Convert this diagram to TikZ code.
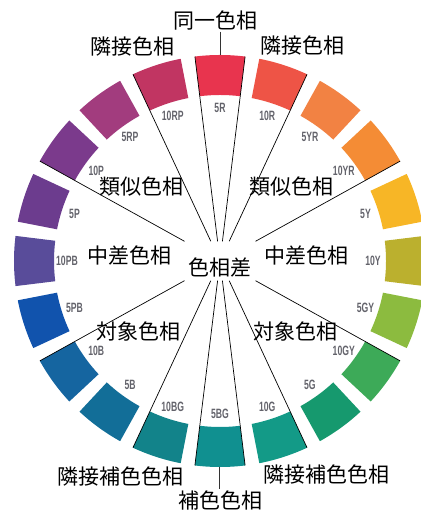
\documentclass[tikz,border=0pt]{standalone}
\usepackage{fontspec}
\usetikzlibrary{calc}
\newfontfamily\jpfont{Noto Sans CJK JP}
\newfontfamily\lblfont[FakeStretch=0.64]{Liberation Sans}
\definecolor{c5R}{HTML}{E8344E}
\definecolor{c10R}{HTML}{EE5446}
\definecolor{c5YR}{HTML}{F28243}
\definecolor{c10YR}{HTML}{F48C35}
\definecolor{c5Y}{HTML}{F7B626}
\definecolor{c10Y}{HTML}{BBB02E}
\definecolor{c5GY}{HTML}{8CBB3F}
\definecolor{c10GY}{HTML}{3DAA58}
\definecolor{c5G}{HTML}{16996E}
\definecolor{c10G}{HTML}{139A87}
\definecolor{c5BG}{HTML}{109090}
\definecolor{c10BG}{HTML}{12838A}
\definecolor{c5B}{HTML}{126E98}
\definecolor{c10B}{HTML}{1565A0}
\definecolor{c5PB}{HTML}{1153AD}
\definecolor{c10PB}{HTML}{594C9A}
\definecolor{c5P}{HTML}{6C3C8E}
\definecolor{c10P}{HTML}{7B3A8C}
\definecolor{c5RP}{HTML}{A23C7E}
\definecolor{c10RP}{HTML}{C13562}
\definecolor{lblgray}{HTML}{63636B}
\tikzset{
  jplabel/.style={font=\jpfont\fontsize{21}{21}\selectfont, inner sep=1pt, text=black},
  seglabel/.style={font=\lblfont\bfseries\fontsize{13.5}{13.5}\selectfont, text=lblgray, inner sep=0pt},
  ray/.style={line width=0.7pt, black},
  conn/.style={line width=0.7pt, black!80},
  hubbox/.style={minimum width=80pt, minimum height=39pt, inner sep=0pt}
}
\begin{document}
\begin{tikzpicture}[x=1pt,y=1pt]
\useasboundingbox (0,0) rectangle (420,513);
\coordinate (C) at (220,252);
% colour segments
\foreach \a/\col/\t in {90/c5R/5R,72/c10R/10R,54/c5YR/5YR,36/c10YR/10YR,18/c5Y/5Y,0/c10Y/10Y,-18/c5GY/5GY,-36/c10GY/10GY,-54/c5G/5G,-72/c10G/10G,-90/c5BG/5BG,-108/c10BG/10BG,-126/c5B/5B,-144/c10B/10B,-162/c5PB/5PB,180/c10PB/10PB,162/c5P/5P,144/c10P/10P,126/c5RP/5RP,108/c10RP/10RP}{
  \pgfmathsetmacro\aL{\a-7}
  \pgfmathsetmacro\aR{\a+7}
  \fill[\col] ($(C)+(\aL:166)$) arc[start angle=\aL, end angle=\aR, radius=166pt]
     -- ($(C)+(\aR:206)$) arc[start angle=\aR, end angle=\aL, radius=206pt] -- cycle;
  \node[seglabel] (l\t) at ($(C)+(\a:153)$) {\t};
}
% hub
\node[hubbox] (hub) at (C) {\raisebox{-14.6pt}[0pt][0pt]{\jpfont\fontsize{21}{21}\selectfont 色相差}};
% rays
\foreach \a [count=\i] in {97,83,115,65,151,29,209,-29,-115,-65,-97,-83}{
  \coordinate (e\i) at ($(C)+(\a:206)$);
  \draw[ray] (hub) -- (e\i);
}
% labels
\node[jplabel] (same) at (215,492.3) {同一色相};
\node[jplabel] (adjL) at (132.5,466.5) {隣接色相};
\node[jplabel] (adjR) at (302,467.5) {隣接色相};
\node[jplabel] (simL) at (141,326) {類似色相};
\node[jplabel] (simR) at (291,326) {類似色相};
\node[jplabel] (midL) at (129,257) {中差色相};
\node[jplabel] (midR) at (306.5,257) {中差色相};
\node[jplabel] (conL) at (138.5,181) {対象色相};
\node[jplabel] (conR) at (295,181) {対象色相};
\node[jplabel] (acpL) at (120.5,36) {隣接補色色相};
\node[jplabel] (acpR) at (326.5,38.5) {隣接補色色相};
\node[jplabel] (comp) at (220,13) {補色色相};
% connectors to the top and bottom segments
\coordinate (t5R) at (220.5,458);
\coordinate (b5BG) at (219.5,46);
\draw[conn] (same.south -| t5R) -- (t5R);
\draw[conn] (b5BG) -- (comp.north -| b5BG);
\end{tikzpicture}
\end{document}
